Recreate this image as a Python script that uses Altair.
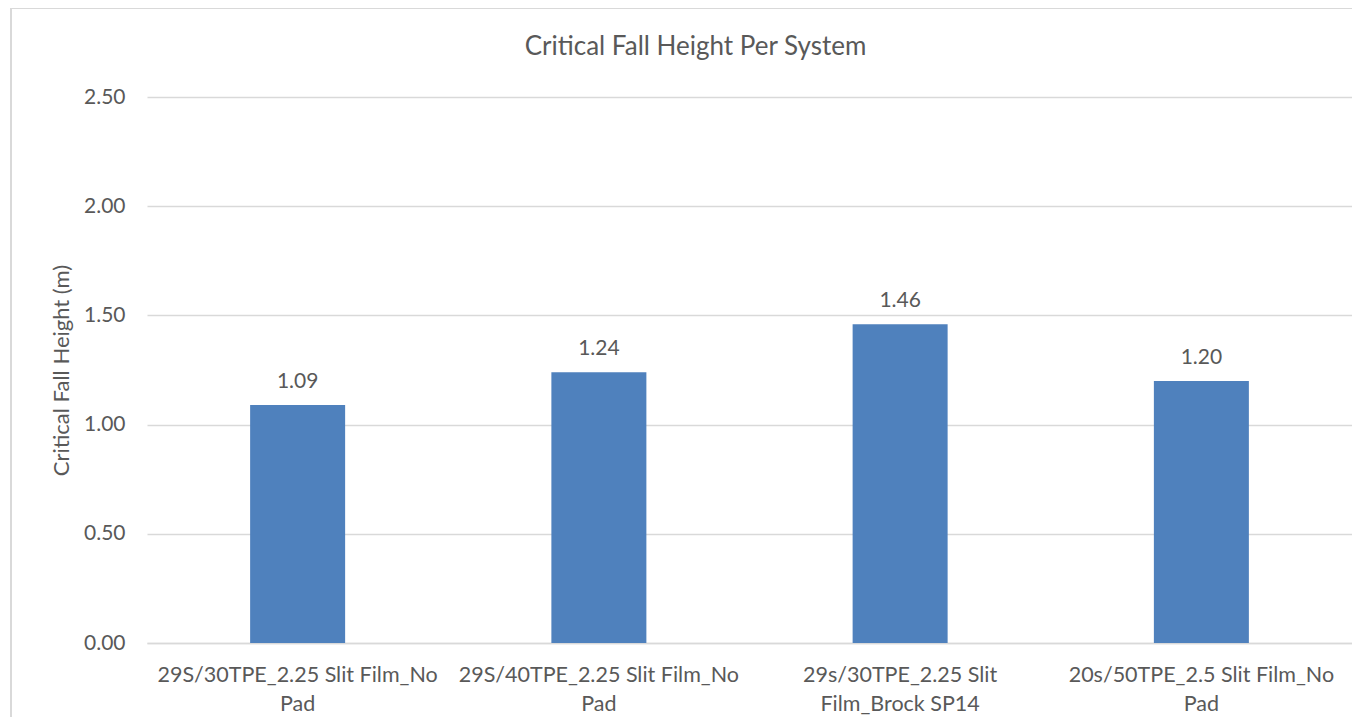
import altair as alt
import pandas as pd

categories = [
    "29S/30TPE_2.25 Slit Film_No Pad",
    "29S/40TPE_2.25 Slit Film_No Pad",
    "29s/30TPE_2.25 Slit Film_Brock SP14",
    "20s/50TPE_2.5 Slit Film_No Pad",
]
label_lines = [
    "29S/30TPE_2.25 Slit Film_No|Pad",
    "29S/40TPE_2.25 Slit Film_No|Pad",
    "29s/30TPE_2.25 Slit|Film_Brock SP14",
    "20s/50TPE_2.5 Slit Film_No|Pad",
]
values = [1.09, 1.24, 1.46, 1.20]
y_ticks = [0, 0.5, 1.0, 1.5, 2.0, 2.5]

df = pd.DataFrame({"system": categories, "label": label_lines, "height": values})
label_map = {c: l for c, l in zip(categories, label_lines)}
label_expr = " : ".join(
    [f"datum.value === '{c}' ? split('{l}', '|')" for c, l in label_map.items()]
) + " : datum.value"

FONT = "Lato"
TXT = "#595959"

yscale = alt.Scale(domain=[0, 2.5], nice=False, zero=True)

x_enc = alt.X(
    "system:N",
    sort=categories,
    scale=alt.Scale(paddingInner=0, paddingOuter=0),
    axis=alt.Axis(
        title=None,
        labelAngle=0,
        labelExpr=label_expr,
        labelFontSize=21.5,
        labelColor=TXT,
        labelFont=FONT,
        labelPadding=21,
        labelLineHeight=29,
        ticks=False,
        domain=True,
        domainColor="#D9D9D9",
        domainWidth=1.5,
        grid=False,
        labelLimit=400,
    ),
)
y_enc = alt.Y(
    "height:Q",
    scale=yscale,
    axis=alt.Axis(
        title="Critical Fall Height (m)",
        values=y_ticks,
        format=".2f",
        labelFontSize=21,
        labelColor=TXT,
        labelFont=FONT,
        labelPadding=22,
        ticks=False,
        domain=False,
        gridColor="#D9D9D9",
        gridWidth=1.5,
        titleFont=FONT,
        titleFontSize=22,
        titleFontWeight="normal",
        titleColor=TXT,
        titlePadding=10,
    ),
)

bars = alt.Chart(df).mark_bar(color="#4F81BD", size=95).encode(x=x_enc, y=y_enc)
labels = alt.Chart(df).mark_text(
    baseline="bottom", dy=-13, fontSize=21, font=FONT, color=TXT
).encode(
    x=alt.X("system:N", sort=categories),
    y=alt.Y("height:Q", scale=yscale),
    text=alt.Text("height:Q", format=".2f"),
)

frame = alt.Chart(df).mark_rect(
    fill=None, stroke="#D9D9D9", strokeWidth=2, clip=False
).encode(
    x=alt.value(-136), x2=alt.value(1260), y=alt.value(-89), y2=alt.value(660)
)

chart = (
    alt.layer(bars, labels, frame)
    .properties(
        width=1205,
        height=546,
        title=alt.TitleParams(
            "Critical Fall Height Per System",
            font=FONT,
            fontSize=26,
            fontWeight="normal",
            color=TXT,
            anchor="middle",
            dx=-54,
            offset=-53,
        ),
        autosize=alt.AutoSizeParams(type="none"),
        padding={"left": 139, "top": 89, "right": 0, "bottom": 74},
    )
    .configure_view(stroke=None)
)

chart.save("out.html", embed_options={"renderer": "svg", "actions": False})
